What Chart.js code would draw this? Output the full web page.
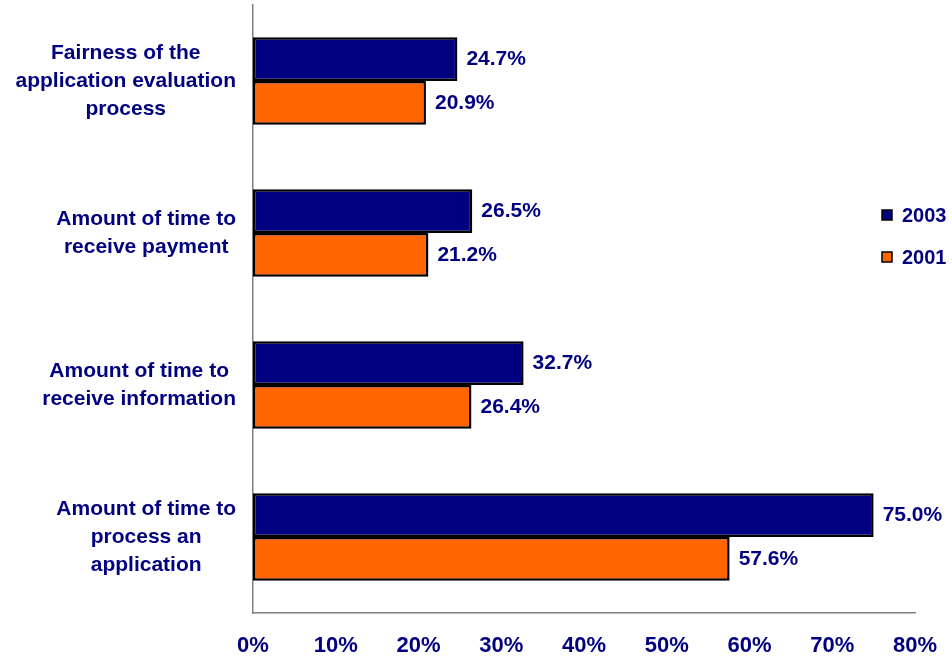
<!DOCTYPE html>
<html lang="en">
<head>
    <meta charset="UTF-8">
    <title>Satisfaction Ratings 2001 vs 2003</title>
    <script src="https://cdn.jsdelivr.net/npm/chart.js"></script>
    <style>
        html, body { margin: 0; padding: 0; background: #fff; }
        #chartContainer { width: 952px; height: 660px; }
    </style>
</head>
<body>
    <div id="chartContainer">
        <canvas id="myChart" width="952" height="660"></canvas>
    </div>
    <script>
        const categories = [
            ['Fairness of the', 'application evaluation', 'process'],
            ['Amount of time to', 'receive payment'],
            ['Amount of time to', 'receive information'],
            ['Amount of time to', 'process an', 'application']
        ];
        const seriesNames = ['2003', '2001'];
        const values2003 = [24.7, 26.5, 32.7, 75.0];
        const values2001 = [20.9, 21.2, 26.4, 57.6];
        const xTicks = [0, 10, 20, 30, 40, 50, 60, 70, 80];

        const NAVY = '#000080';
        const ORANGE = '#FF6600';
        const FONT = '"Liberation Sans", Arial, sans-serif';

        // category names: each block right-aligned to the axis, lines centred inside it
        const categoryLabels = {
            id: 'categoryLabels',
            afterDraw(chart) {
                const ctx = chart.ctx;
                const yScale = chart.scales.y;
                const lineH = 28;
                ctx.save();
                ctx.font = 'bold 21px ' + FONT;
                ctx.fillStyle = NAVY;
                ctx.textAlign = 'center';
                ctx.textBaseline = 'middle';
                chart.data.labels.forEach((lines, i) => {
                    const widest = Math.max(...lines.map(l => ctx.measureText(l).width));
                    const cx = yScale.right - 17 - widest / 2;
                    const cy = yScale.getPixelForValue(i) - (lines.length - 1) * lineH / 2;
                    lines.forEach((l, k) => ctx.fillText(l, cx, cy + k * lineH));
                });
                ctx.restore();
            }
        };

        // percentage text just past the end of every bar
        const valueLabels = {
            id: 'valueLabels',
            afterDatasetsDraw(chart) {
                const ctx = chart.ctx;
                ctx.save();
                ctx.font = 'bold 21px ' + FONT;
                ctx.fillStyle = NAVY;
                ctx.textAlign = 'left';
                ctx.textBaseline = 'middle';
                chart.data.datasets.forEach((ds, i) => {
                    chart.getDatasetMeta(i).data.forEach((bar, j) => {
                        ctx.fillText(ds.data[j].toFixed(1) + '%', bar.x + 9, bar.y);
                    });
                });
                ctx.restore();
            }
        };

        // small boxed legend on the right side
        const sideLegend = {
            id: 'sideLegend',
            afterDraw(chart) {
                const ctx = chart.ctx;
                ctx.save();
                ctx.font = 'bold 20px ' + FONT;
                ctx.textBaseline = 'middle';
                ctx.textAlign = 'left';
                chart.data.datasets.forEach((ds, i) => {
                    const y = 215 + i * 42;
                    ctx.fillStyle = ds.backgroundColor;
                    ctx.fillRect(882, y - 5, 10, 10);
                    ctx.strokeStyle = '#000';
                    ctx.lineWidth = 1.5;
                    ctx.strokeRect(882, y - 5, 10, 10);
                    ctx.fillStyle = NAVY;
                    ctx.fillText(ds.label, 902, y + 1);
                });
                ctx.restore();
            }
        };

        const ctx = document.getElementById('myChart').getContext('2d');
        const myChart = new Chart(ctx, {
            type: 'bar',
            data: {
                labels: categories,
                datasets: [{
                    label: seriesNames[0],
                    data: values2003,
                    backgroundColor: NAVY,
                    borderColor: '#000',
                    borderWidth: 2.5,
                    borderSkipped: false
                }, {
                    label: seriesNames[1],
                    data: values2001,
                    backgroundColor: ORANGE,
                    borderColor: '#000',
                    borderWidth: 2.5,
                    borderSkipped: false
                }]
            },
            options: {
                indexAxis: 'y',
                responsive: false,
                animation: false,
                layout: { autoPadding: false, padding: { top: 5, right: 37, left: 0, bottom: 0 } },
                datasets: {
                    bar: { barPercentage: 1.0, categoryPercentage: 0.575 }
                },
                scales: {
                    x: {
                        min: 0,
                        max: 80,
                        afterBuildTicks(scale) {
                            scale.ticks = xTicks.map(v => ({ value: v }));
                        },
                        grid: { display: false, drawTicks: false },
                        border: { display: true, color: '#808080', width: 1.5 },
                        ticks: {
                            padding: 20,
                            color: NAVY,
                            maxRotation: 0,
                            font: { family: FONT, size: 22, weight: 'bold' },
                            callback: v => v + '%'
                        },
                        afterFit(scale) {
                            scale.height = 47;
                            scale.paddingLeft = 0;
                            scale.paddingRight = 0;
                        }
                    },
                    y: {
                        grid: { display: false, drawTicks: false },
                        border: { display: true, color: '#808080', width: 1.5 },
                        ticks: { display: false },
                        afterFit(scale) { scale.width = 253; }
                    }
                },
                plugins: {
                    legend: { display: false },
                    tooltip: { enabled: false }
                }
            },
            plugins: [categoryLabels, valueLabels, sideLegend]
        });
    </script>
</body>
</html>
